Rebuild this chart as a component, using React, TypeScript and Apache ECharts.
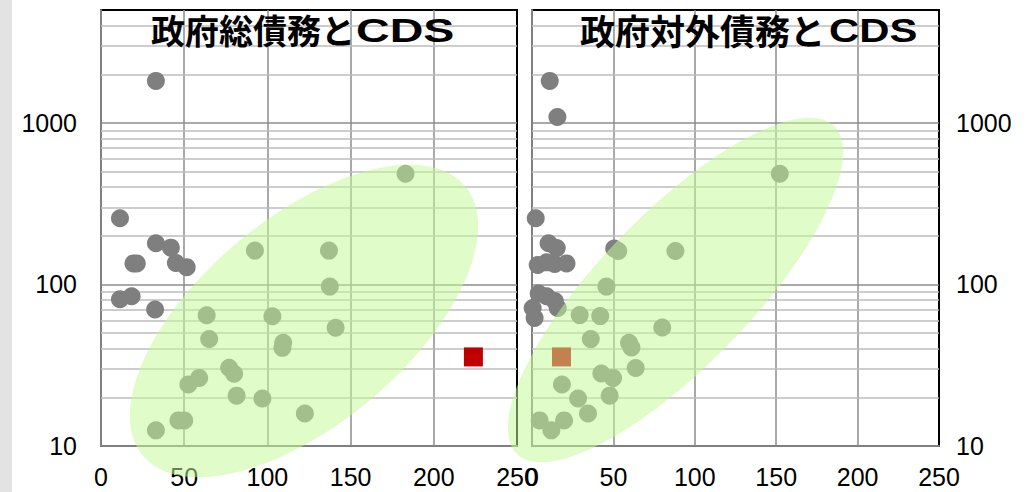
import React, { useEffect, useRef } from "react";
import * as echarts from "echarts";

// CDS (bp, log scale) against government debt (% of GDP)
// Left panel: gross government debt; right panel: external government debt.
const grossDebtPoints: [number, number][] = [
  [33, 1820], [11.4, 257], [33, 180], [42, 169], [19.5, 135], [21.5, 135],
  [45, 136], [51.5, 128], [11.4, 81], [18.4, 84.5], [32.5, 70],
  [183, 485], [92.5, 162], [137, 162], [137.5, 97], [63.5, 64.5], [103, 63.5],
  [141, 54], [65, 46], [109.5, 43.5], [109, 40.5], [77, 30.5], [80, 28],
  [59, 26.4], [52.5, 24], [81.5, 20.5], [97, 19.7], [122.5, 15.9],
  [46.5, 14.4], [50, 14.4], [33, 12.5],
];

const externalDebtPoints: [number, number][] = [
  [10.9, 1820], [15.6, 1087], [2.3, 257], [10.2, 180], [15.2, 168],
  [3.5, 132], [9, 137], [13.9, 134], [21.2, 135], [4.1, 88], [9, 84.5],
  [14, 79], [15.8, 71.5], [0.4, 71.5], [1.6, 62], [50.5, 167],
  [152.2, 485], [53, 161], [88.1, 161], [45.7, 97], [29.3, 64.6], [41.9, 63.7],
  [80, 54.2], [36.1, 45.9], [59.6, 43.5], [61.1, 40.7], [63.7, 30.4],
  [42.6, 28.1], [49.8, 26.4], [18.4, 24], [47.7, 20.5], [28.3, 19.7],
  [34.4, 15.9], [4.7, 14.4], [19.7, 14.4], [11.9, 12.5],
];

// Highlighted country (square marker)
const highlightGross: [number, number][] = [[223.8, 35.6]];
const highlightExternal: [number, number][] = [[18.1, 35.6]];

const yLabelValues = [10, 100, 1000];
const minorGridValues = [
  20, 30, 40, 50, 60, 70, 80, 90,
  200, 300, 400, 500, 600, 700, 800, 900,
  2000, 3000, 4000,
];

const FONT = "'Liberation Sans', Arial, sans-serif";
const CJK = "'Noto Sans CJK JP', sans-serif";
const AXIS_GRAY = "#808080";
const GRID_GRAY = "#8c8c8c";
const MINOR_GRAY = "#bdbdbd";
const DOT_GRAY = "#7f7f7f";
const SQUARE_RED = "#c00000";
const HALO = "rgba(196, 250, 150, 0.52)";

function xAxisFor(gridIndex: number) {
  return {
    gridIndex,
    type: "value",
    min: 0,
    max: 250,
    interval: 50,
    axisLine: { show: true, lineStyle: { color: AXIS_GRAY, width: 2 } },
    axisTick: { show: false },
    axisLabel: { fontSize: 25, color: "#000", fontFamily: FONT, margin: 18 },
    splitLine: {
      show: true,
      showMinLine: false,
      showMaxLine: false,
      lineStyle: { color: GRID_GRAY, width: 1.5 },
    },
  };
}

const logLabel = (v: number) =>
  yLabelValues.includes(Math.round(v)) ? String(Math.round(v)) : "";

function scatterFor(index: number, data: [number, number][]) {
  return {
    type: "scatter",
    xAxisIndex: index,
    yAxisIndex: index,
    data,
    symbol: "circle",
    symbolSize: 18,
    itemStyle: { color: DOT_GRAY, opacity: 1 },
    z: 3,
    silent: true,
    markLine: {
      silent: true,
      symbol: "none",
      z: 1,
      label: { show: false },
      lineStyle: { color: MINOR_GRAY, width: 1.5, type: "solid" },
      data: minorGridValues.map((v) => ({ yAxis: v })),
    },
  };
}

function squareFor(index: number, data: [number, number][]) {
  return {
    type: "scatter",
    xAxisIndex: index,
    yAxisIndex: index,
    data,
    symbol: "rect",
    symbolSize: 19,
    itemStyle: { color: SQUARE_RED, opacity: 1 },
    z: 4,
    silent: true,
  };
}

export default function App() {
  const ref = useRef<HTMLDivElement>(null);

  useEffect(() => {
    if (!ref.current) return;
    const chart = echarts.init(ref.current, undefined, { renderer: "svg" });
    chart.setOption({
      animation: false,
      backgroundColor: "#ffffff",
      grid: [
        { left: 101, top: 10, width: 416, height: 436, show: true, borderColor: "#000", borderWidth: 2, backgroundColor: "transparent" },
        { left: 532, top: 10, width: 407, height: 436, show: true, borderColor: "#000", borderWidth: 2, backgroundColor: "transparent" },
      ],
      xAxis: [xAxisFor(0), xAxisFor(1)],
      yAxis: [
        {
          gridIndex: 0,
          type: "log",
          logBase: 10,
          min: 10,
          max: 5000,
          axisLine: { show: true, lineStyle: { color: AXIS_GRAY, width: 2 } },
          axisTick: { show: false },
          axisLabel: { fontSize: 25, color: "#000", fontFamily: FONT, margin: 24, formatter: logLabel },
          splitLine: { show: true, showMinLine: false, showMaxLine: false, lineStyle: { color: GRID_GRAY, width: 1.5 } },
        },
        {
          gridIndex: 1,
          type: "log",
          logBase: 10,
          min: 10,
          max: 5000,
          position: "right",
          axisLine: { show: false },
          axisTick: { show: false },
          axisLabel: { fontSize: 25, color: "#000", fontFamily: FONT, margin: 17, formatter: logLabel },
          splitLine: { show: true, showMinLine: false, showMaxLine: false, lineStyle: { color: GRID_GRAY, width: 1.5 } },
        },
        {
          gridIndex: 1,
          type: "log",
          logBase: 10,
          min: 10,
          max: 5000,
          position: "left",
          axisLine: { show: true, onZero: false, lineStyle: { color: AXIS_GRAY, width: 2 } },
          axisTick: { show: false },
          axisLabel: { show: false },
          splitLine: { show: false },
        },
      ],
      series: [
        scatterFor(0, grossDebtPoints),
        scatterFor(1, externalDebtPoints),
        squareFor(0, highlightGross),
        squareFor(1, highlightExternal),
      ],
      graphic: [
        { type: "rect", z: 50, silent: true, shape: { x: 0, y: 0, width: 12, height: 492 }, style: { fill: "#e3e3e3" } },
        // translucent highlight ellipses over the correlated clusters
        {
          type: "ellipse", z: 100, silent: true,
          x: 304, y: 321, rotation: 0.697,
          shape: { cx: 0, cy: 0, rx: 210, ry: 103 },
          style: { fill: HALO },
        },
        {
          type: "ellipse", z: 100, silent: true,
          x: 675.5, y: 290, rotation: 0.802,
          shape: { cx: 0, cy: 0, rx: 228, ry: 76 },
          style: { fill: HALO },
        },
        // panel titles
        {
          type: "text", z: 110, silent: true, x: 151, y: 29,
          style: { text: "政府総債務と", font: `bold 34px ${CJK}`, fill: "#000", textAlign: "left", textVerticalAlign: "middle" },
        },
        {
          type: "text", z: 110, silent: true, x: 356, y: 30, scaleX: 1.37,
          style: { text: "CDS", font: `bold 34px ${FONT}`, fill: "#000", textAlign: "left", textVerticalAlign: "middle" },
        },
        {
          type: "text", z: 110, silent: true, x: 580, y: 29,
          style: { text: "政府対外債務と", font: `bold 35px ${CJK}`, fill: "#000", textAlign: "left", textVerticalAlign: "middle" },
        },
        {
          type: "text", z: 110, silent: true, x: 829, y: 30, scaleX: 1.23,
          style: { text: "CDS", font: `bold 34px ${FONT}`, fill: "#000", textAlign: "left", textVerticalAlign: "middle" },
        },
      ],
    });
    return () => chart.dispose();
  }, []);

  return (
    <div
      ref={ref}
      style={{ position: "fixed", left: 0, top: 0, width: 1035, height: 492, background: "#fff" }}
    />
  );
}
